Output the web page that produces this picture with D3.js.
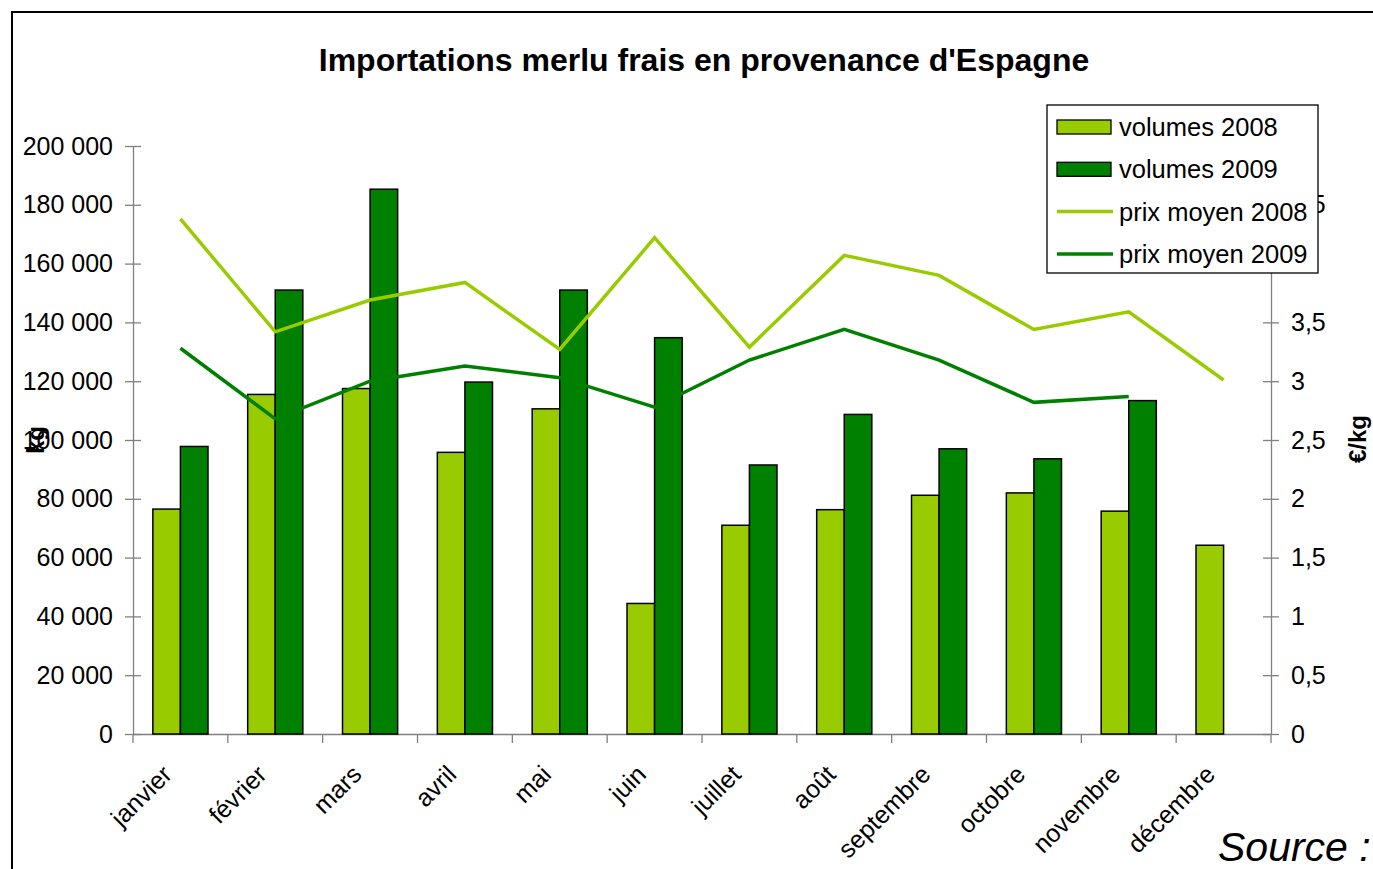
<!DOCTYPE html>
<html lang="fr">
<head>
<meta charset="utf-8">
<title>Importations merlu frais</title>
<script src="https://d3js.org/d3.v7.min.js"></script>
<style>
  body { margin: 0; background: #fff; }
  svg { display: block; font-family: "Liberation Sans", Arial, sans-serif; }
  .axis path, .axis line { stroke: #808080; stroke-width: 1.3px; }
  .axis text { font-size: 25px; fill: #000; font-family: "Liberation Sans", Arial, sans-serif; }
</style>
</head>
<body>
<script>
var months = ["janvier", "février", "mars", "avril", "mai", "juin", "juillet", "août", "septembre", "octobre", "novembre", "décembre"];
var volumes2008 = [76500, 115500, 117500, 95800, 110600, 44400, 71000, 76300, 81200, 82000, 75800, 64200];
var volumes2009 = [97800, 151000, 185300, 119700, 151000, 134800, 91500, 108700, 97000, 93600, 113400, null];
var prix2008 = [4.38, 3.42, 3.69, 3.84, 3.27, 4.22, 3.29, 4.07, 3.9, 3.44, 3.59, 3.01];
var prix2009 = [3.28, 2.68, 3.0, 3.13, 3.03, 2.78, 3.18, 3.44, 3.18, 2.82, 2.87, null];
var kgTicks = [0, 20000, 40000, 60000, 80000, 100000, 120000, 140000, 160000, 180000, 200000];
var prixTicks = [0, 0.5, 1, 1.5, 2, 2.5, 3, 3.5, 4, 4.5, 5];

var light = "#99cc00", dark = "#008000";
var W = 1373, H = 869;
var plotLeft = 133, plotRight = 1271, plotTop = 146, plotBottom = 734;

var svg = d3.select("body").append("svg").attr("width", W).attr("height", H);

// cadre
svg.append("rect").attr("x", 12).attr("y", 12).attr("width", W).attr("height", H)
  .attr("fill", "none").attr("stroke", "#000").attr("stroke-width", 2);

svg.append("text").attr("x", 704).attr("y", 71).attr("text-anchor", "middle")
  .attr("font-size", "32px").attr("font-weight", "bold").text("Importations merlu frais en provenance d'Espagne");

var x = d3.scaleBand().domain(months).range([plotLeft, plotRight]);
var xi = d3.scaleBand().domain(["2008", "2009"]).range([0, x.bandwidth()]).paddingOuter(0.72).paddingInner(0);
var y = d3.scaleLinear().domain([0, 200000]).range([plotBottom, plotTop]);
var y2 = d3.scaleLinear().domain([0, 5]).range([plotBottom, plotTop]);

var fmtKg = function(d) { return d3.format(",")(d).replace(/,/g, " "); };
var fmtPrix = function(d) { return String(d).replace(".", ","); };

// axes
var yAxis = svg.append("g").attr("class", "axis").attr("transform", "translate(" + plotLeft + ",0)")
  .call(d3.axisLeft(y).tickValues(kgTicks).tickFormat(fmtKg).tickSize(8).tickSizeOuter(0).tickPadding(12));
yAxis.selectAll(".tick line").attr("x2", 8).attr("x1", -8);

var y2Axis = svg.append("g").attr("class", "axis").attr("transform", "translate(" + plotRight + ",0)")
  .call(d3.axisRight(y2).tickValues(prixTicks).tickFormat(fmtPrix).tickSize(8).tickSizeOuter(0).tickPadding(12));
y2Axis.selectAll(".tick line").attr("x1", -8).attr("x2", 8);

var xAxis = svg.append("g").attr("class", "axis").attr("transform", "translate(0," + plotBottom + ")")
  .call(d3.axisBottom(x).tickSize(0).tickSizeOuter(0).tickPadding(0));
xAxis.selectAll(".tick text")
  .attr("text-anchor", "end")
  .attr("y", 0)
  .attr("dy", "0")
  .attr("transform", "translate(-7,42) rotate(-45)");
xAxis.selectAll(".boundary").data(months.concat(["_end"])).enter().append("line")
  .attr("x1", function(d, i) { return plotLeft + i * x.step(); })
  .attr("x2", function(d, i) { return plotLeft + i * x.step(); })
  .attr("y1", 0).attr("y2", 9).attr("stroke", "#808080").attr("stroke-width", 1.3);

// barres
var groups = svg.append("g").selectAll("g").data(months).enter().append("g")
  .attr("transform", function(d) { return "translate(" + x(d) + ",0)"; });

groups.append("rect")
  .attr("x", xi("2008")).attr("width", xi.bandwidth())
  .attr("y", function(d, i) { return y(volumes2008[i]); })
  .attr("height", function(d, i) { return plotBottom - y(volumes2008[i]); })
  .attr("fill", light).attr("stroke", "#000").attr("stroke-width", 1.5);

groups.filter(function(d, i) { return volumes2009[i] != null; }).append("rect")
  .attr("x", xi("2009")).attr("width", xi.bandwidth())
  .attr("y", function(d) { return y(volumes2009[months.indexOf(d)]); })
  .attr("height", function(d) { return plotBottom - y(volumes2009[months.indexOf(d)]); })
  .attr("fill", dark).attr("stroke", "#000").attr("stroke-width", 1.5);

// lignes prix
var line = d3.line()
  .defined(function(d) { return d != null; })
  .x(function(d, i) { return x(months[i]) + x.bandwidth() / 2; })
  .y(function(d) { return y2(d); });

svg.append("path").datum(prix2008).attr("d", line).attr("fill", "none")
  .attr("stroke", light).attr("stroke-width", 3.5);
svg.append("path").datum(prix2009).attr("d", line).attr("fill", "none")
  .attr("stroke", dark).attr("stroke-width", 3.5);

// titres d'axes
svg.append("text").attr("transform", "translate(44,440) rotate(-90)").attr("text-anchor", "middle")
  .attr("font-size", "24px").attr("font-weight", "bold").text("kg");
svg.append("text").attr("transform", "translate(1366,439) rotate(-90)").attr("text-anchor", "middle")
  .attr("font-size", "24px").attr("font-weight", "bold").text("€/kg");

// légende
var legend = svg.append("g").attr("transform", "translate(1047,105)");
legend.append("rect").attr("width", 271).attr("height", 168).attr("fill", "#fff")
  .attr("stroke", "#000").attr("stroke-width", 1.3);
var items = [
  { label: "volumes 2008", color: light, type: "bar" },
  { label: "volumes 2009", color: dark, type: "bar" },
  { label: "prix moyen 2008", color: light, type: "line" },
  { label: "prix moyen 2009", color: dark, type: "line" }
];
var li = legend.selectAll(".item").data(items).enter().append("g")
  .attr("transform", function(d, i) { return "translate(0," + (22 + i * 42.3) + ")"; });
li.filter(function(d) { return d.type === "bar"; }).append("rect")
  .attr("x", 10).attr("y", -7).attr("width", 54).attr("height", 14)
  .attr("fill", function(d) { return d.color; }).attr("stroke", "#000").attr("stroke-width", 1.3);
li.filter(function(d) { return d.type === "line"; }).append("line")
  .attr("x1", 10).attr("x2", 66).attr("y1", 0).attr("y2", 0)
  .attr("stroke", function(d) { return d.color; }).attr("stroke-width", 3.5);
li.append("text").attr("x", 72).attr("y", 9).attr("font-size", "25.5px")
  .text(function(d) { return d.label; });

svg.append("text").attr("x", 1218).attr("y", 861).attr("font-size", "41px")
  .attr("font-style", "italic").text("Source :");
</script>
</body>
</html>
